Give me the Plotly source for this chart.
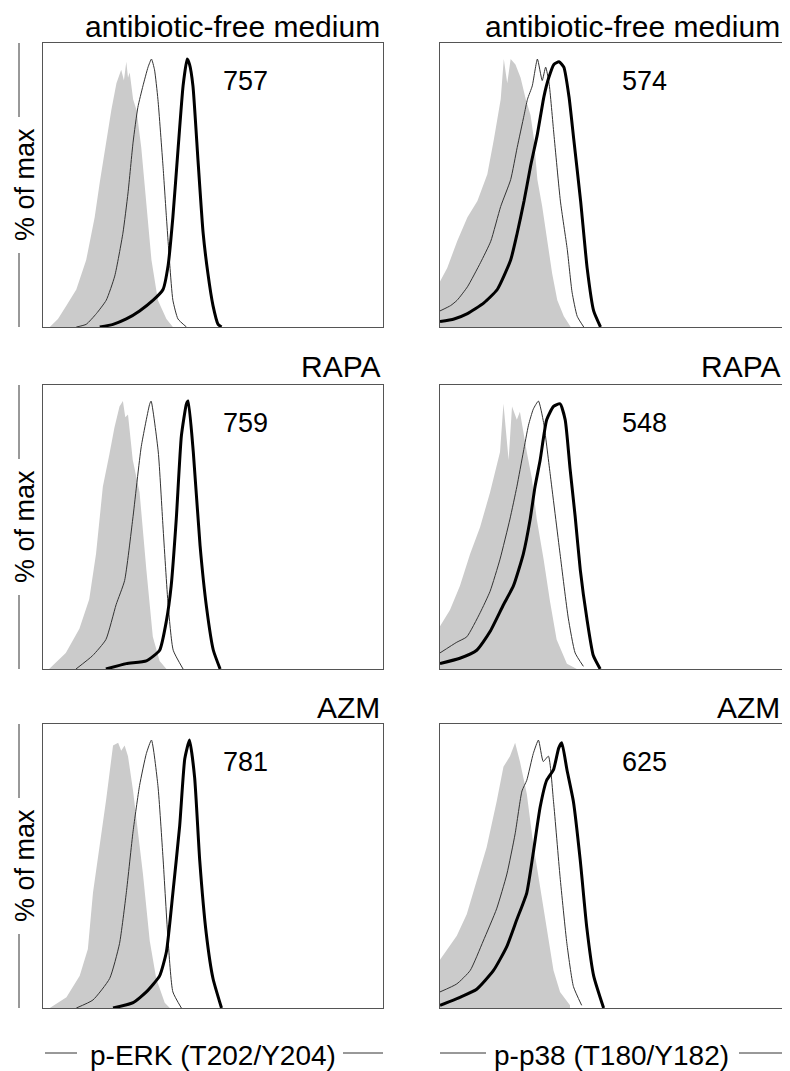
import plotly.graph_objects as go

# ---------------- data (x: fluorescence channel 0-100, y: % of max) ----------------
row_titles = ["antibiotic-free medium", "RAPA", "AZM"]
x_labels = ["p-ERK (T202/Y204)", "p-p38 (T180/Y182)"]
y_label = "% of max"
mfi_values = [["757", "574"], ["759", "548"], ["781", "625"]]

# p-ERK, antibiotic-free medium
erk_med_gray_x = [2, 4.4, 6.9, 9.8, 12.7, 15.2, 16.7, 18.6, 20.1, 21.6, 23.0, 23.8, 24.5, 25.0, 25.5, 26.5, 27.5, 28.9, 30.4, 31.9, 33.8, 36.3, 38.2]
erk_med_gray_y = [0, 3, 8, 14, 25, 41, 54, 70, 81, 91, 96, 92, 99, 93, 95, 85, 81, 67, 47, 25, 10, 3, 0]
erk_med_thin_x = [9.8, 12.7, 15.7, 18.6, 21.1, 23.5, 25.0, 26.5, 27.9, 29.4, 30.9, 31.9, 32.8, 33.8, 35.3, 36.3, 37.3, 38.2, 39.7, 42.2]
erk_med_thin_y = [0, 1, 5, 10, 19, 35, 50, 69, 82, 90, 97, 100, 96, 85, 60, 41, 23, 10, 3, 0]
erk_med_thick_x = [16.7, 20.6, 24.5, 28.4, 32.4, 35.3, 36.8, 38.2, 39.7, 41.2, 42.4, 43.1, 44.1, 45.6, 47.1, 48.5, 50.0, 51.5, 52.5]
erk_med_thick_y = [0, 1, 3, 6, 10, 14, 23, 41, 66, 90, 100, 98, 90, 62, 35, 20, 8, 1, 0]

# p-ERK, RAPA
erk_rapa_gray_x = [1.8, 6.7, 10.7, 13.6, 15.6, 17.6, 19.5, 21.0, 22.5, 23.5, 24.2, 25.0, 26.4, 28.4, 30.4, 32.3, 34.3, 36.3]
erk_rapa_gray_y = [0, 6, 15, 26, 43, 68, 80, 90, 98, 100, 94, 95, 78, 66, 37, 12, 3, 0]
erk_rapa_thin_x = [9.7, 14.6, 18.5, 21.5, 24.0, 26.4, 28.9, 31.4, 31.8, 33.9, 35.3, 36.8, 38.3, 41.2]
erk_rapa_thin_y = [0, 5, 11, 24, 33, 56, 83, 99, 100, 81, 53, 24, 7, 0]
erk_rapa_thick_x = [18.5, 24.5, 30.4, 34.3, 36.3, 37.7, 39.2, 40.7, 42.2, 42.7, 44.2, 46.2, 48.1, 50.1, 52.1]
erk_rapa_thick_y = [0, 2, 3, 7, 18, 31, 56, 87, 99, 100, 81, 46, 23, 7, 0]

# p-ERK, AZM
erk_azm_gray_x = [2.0, 6.9, 10.8, 13.2, 14.7, 16.7, 18.6, 20.6, 22.1, 23.0, 24.0, 25.0, 25.5, 26.5, 27.9, 29.4, 31.4, 33.3, 35.8, 37.3]
erk_azm_gray_y = [0, 4, 12, 22, 43, 60, 78, 98, 99, 96, 98, 94, 90, 81, 66, 50, 25, 11, 2, 0]
erk_azm_thin_x = [9.8, 14.7, 19.6, 22.5, 24.5, 26.5, 28.4, 30.4, 31.9, 33.8, 35.3, 36.8, 38.2, 40.7]
erk_azm_thin_y = [0, 3, 11, 24, 43, 66, 83, 95, 100, 83, 56, 25, 6, 0]
erk_azm_thick_x = [20.6, 26.5, 30.4, 34.3, 36.3, 38.2, 40.2, 41.7, 43.1, 44.6, 46.1, 48.0, 50.0, 52.5]
erk_azm_thick_y = [0, 2, 6, 12, 21, 43, 68, 93, 100, 86, 55, 28, 11, 0]

# p-p38, antibiotic-free medium
p38_med_gray_x = [0, 2.1, 5.0, 8.0, 10.9, 13.8, 15.7, 17.7, 18.6, 19.6, 20.6, 22.0, 23.5, 25.0, 26.4, 27.4, 28.4, 29.8, 31.3, 32.7, 34.2, 36.1, 38.1]
p38_med_gray_y = [17, 22, 32, 41, 47, 57, 70, 85, 100, 91, 100, 98, 93, 85, 79, 70, 55, 45, 32, 20, 10, 4, 0]
p38_med_thin_x = [0, 3.1, 5.0, 8.0, 11.8, 14.8, 17.7, 20.6, 22.5, 24.5, 25.5, 26.9, 28.4, 29.8, 30.8, 31.8, 33.2, 35.1, 37.1, 38.5, 40.0, 41.9]
p38_med_thin_y = [6, 8, 10, 15, 24, 32, 45, 55, 67, 79, 85, 90, 100, 92, 97, 91, 72, 47, 29, 13, 4, 0]
p38_med_thick_x = [0, 4.1, 8.0, 12.8, 16.7, 20.6, 22.5, 24.5, 26.4, 28.4, 30.3, 31.7, 33.2, 34.7, 36.1, 37.6, 39.0, 41.0, 42.9, 44.8, 46.8]
p38_med_thick_y = [2, 3, 5, 9, 14, 25, 35, 47, 60, 72, 86, 93, 98, 99, 97, 86, 70, 47, 22, 6, 0]

# p-p38, RAPA
p38_rapa_gray_x = [0, 2.9, 5.8, 8.8, 11.7, 14.6, 17.5, 18.5, 20.0, 21.0, 22.4, 23.3, 25.3, 26.8, 28.2, 30.2, 32.1, 34.0, 37.0, 39.9]
p38_rapa_gray_y = [16, 22, 31, 43, 53, 66, 81, 99, 78, 98, 93, 96, 81, 71, 56, 41, 25, 11, 2, 0]
p38_rapa_thin_x = [0, 4.9, 7.8, 11.7, 14.6, 17.5, 20.4, 22.4, 24.3, 25.8, 27.2, 28.7, 30.2, 32.1, 35.0, 37.4, 39.4, 41.8]
p38_rapa_thin_y = [6, 10, 12, 21, 29, 41, 56, 68, 81, 91, 97, 100, 92, 73, 43, 19, 6, 1]
p38_rapa_thick_x = [0, 5.8, 10.7, 14.6, 18.5, 21.4, 24.3, 26.3, 27.7, 29.2, 31.1, 33.1, 35.0, 36.5, 37.9, 39.4, 40.9, 42.8, 44.7, 46.7]
p38_rapa_thick_y = [2, 4, 7, 14, 24, 31, 43, 56, 68, 78, 93, 98, 99, 93, 75, 57, 37, 19, 5, 0]

# p-p38, AZM
p38_azm_gray_x = [0, 4.9, 7.8, 10.7, 13.6, 16.5, 18.5, 20.4, 21.9, 23.3, 25.3, 27.2, 29.2, 31.1, 33.1, 35.0, 37.9]
p38_azm_gray_y = [18, 27, 35, 48, 60, 77, 90, 94, 99, 92, 80, 61, 45, 30, 14, 6, 1]
p38_azm_thin_x = [0, 4.9, 8.8, 12.6, 16.5, 19.5, 21.9, 23.9, 25.3, 27.2, 28.7, 30.1, 31.6, 33.1, 35.0, 37.0, 38.9, 41.3]
p38_azm_thin_y = [6, 9, 14, 25, 37, 50, 65, 81, 85, 95, 100, 92, 94, 77, 49, 24, 8, 1]
p38_azm_thick_x = [0, 5.8, 10.7, 15.6, 19.5, 22.4, 25.3, 27.2, 29.2, 31.1, 33.1, 34.6, 35.5, 37.0, 38.9, 40.9, 42.8, 44.8, 47.7]
p38_azm_thick_y = [1, 4, 7, 14, 23, 33, 43, 58, 75, 85, 89, 97, 99, 89, 77, 55, 30, 12, 0]

panels = [
    [(erk_med_gray_x, erk_med_gray_y, erk_med_thin_x, erk_med_thin_y, erk_med_thick_x, erk_med_thick_y),
     (p38_med_gray_x, p38_med_gray_y, p38_med_thin_x, p38_med_thin_y, p38_med_thick_x, p38_med_thick_y)],
    [(erk_rapa_gray_x, erk_rapa_gray_y, erk_rapa_thin_x, erk_rapa_thin_y, erk_rapa_thick_x, erk_rapa_thick_y),
     (p38_rapa_gray_x, p38_rapa_gray_y, p38_rapa_thin_x, p38_rapa_thin_y, p38_rapa_thick_x, p38_rapa_thick_y)],
    [(erk_azm_gray_x, erk_azm_gray_y, erk_azm_thin_x, erk_azm_thin_y, erk_azm_thick_x, erk_azm_thick_y),
     (p38_azm_gray_x, p38_azm_gray_y, p38_azm_thin_x, p38_azm_thin_y, p38_azm_thick_x, p38_azm_thick_y)],
]

# ---------------- layout geometry (page pixels) ----------------
PAGE_OFF = 8                      # default body margin of the html page
W, H = 790 - PAGE_OFF, 1071 - PAGE_OFF
cols_px = [(43, 383), (440, 783)]
rows_px = [(43, 327), (385, 669), (724, 1008)]
title_cy = [27, 366, 707]
X_RANGE = [0, 100]
Y_RANGE = [0, 106]
FONT = "Liberation Sans, Arial, Helvetica, sans-serif"
GRAY = "#cbcbcb"
BOX = "#555555"


def px(x):
    return (x - PAGE_OFF) / W


def py(y):
    return 1 - (y - PAGE_OFF) / H


fig = go.Figure()
annotations = []
shapes = []

for r in range(3):
    for c in range(2):
        k = r * 2 + c + 1
        xa = "x" if k == 1 else f"x{k}"
        ya = "y" if k == 1 else f"y{k}"
        gx, gy, tx, ty, kx, ky = panels[r][c]
        fig.add_trace(go.Scatter(x=gx, y=gy, mode="lines", line=dict(width=0, color=GRAY),
                                 fill="tozeroy", fillcolor=GRAY, xaxis=xa, yaxis=ya,
                                 showlegend=False, hoverinfo="skip"))
        fig.add_trace(go.Scatter(x=tx, y=ty, mode="lines",
                                 line=dict(width=1, color="#333333", shape="spline", smoothing=0.5),
                                 xaxis=xa, yaxis=ya, showlegend=False, hoverinfo="skip"))
        fig.add_trace(go.Scatter(x=kx, y=ky, mode="lines",
                                 line=dict(width=3, color="#000000", shape="spline", smoothing=0.5),
                                 xaxis=xa, yaxis=ya, showlegend=False, hoverinfo="skip"))
        x0, x1 = cols_px[c]
        y0, y1 = rows_px[r]
        common = dict(showline=True, mirror=True, linecolor=BOX, linewidth=1,
                      showticklabels=False, ticks="", showgrid=False, zeroline=False,
                      fixedrange=True)
        fig.update_layout(**{
            ("xaxis" if k == 1 else f"xaxis{k}"): dict(domain=[px(x0), px(x1)], range=X_RANGE,
                                                       anchor=ya, **common),
            ("yaxis" if k == 1 else f"yaxis{k}"): dict(domain=[py(y1), py(y0)], range=Y_RANGE,
                                                       anchor=xa, **common),
        })
        # MFI value
        annotations.append(dict(text=mfi_values[r][c], x=59.7, y=92, xref=xa, yref=ya,
                                xanchor="center", yanchor="middle", showarrow=False,
                                font=dict(family=FONT, size=27, color="#000")))
        # row title
        annotations.append(dict(text=row_titles[r], x=px(x1 - 1), y=py(title_cy[r]), xref="paper",
                                yref="paper", xanchor="right", yanchor="middle", showarrow=False,
                                font=dict(family=FONT, size=30, color="#000")))
    # y label with bracketing lines
    y0, y1 = rows_px[r]
    cy = (y0 + y1) / 2
    annotations.append(dict(text=y_label, x=px(25), y=py(cy), xref="paper", yref="paper",
                            xanchor="center", yanchor="middle", textangle=-90, showarrow=False,
                            font=dict(family=FONT, size=27, color="#000")))
    shapes.append(dict(type="line", xref="paper", yref="paper", x0=px(19), x1=px(19),
                       y0=py(y0), y1=py(cy - 68), line=dict(color="#333", width=1)))
    shapes.append(dict(type="line", xref="paper", yref="paper", x0=px(19), x1=px(19),
                       y0=py(cy + 68), y1=py(y1), line=dict(color="#333", width=1)))

# x labels with dashes
label_cy = 1055
dash_y = 1053
dash_spans = [[(45, 77), (343, 383)], [(440, 486), (739, 783)]]
for c in range(2):
    x0, x1 = cols_px[c]
    annotations.append(dict(text=x_labels[c], x=px((x0 + x1) / 2), y=py(label_cy), xref="paper",
                            yref="paper", xanchor="center", yanchor="middle", showarrow=False,
                            font=dict(family=FONT, size=28, color="#000")))
    for a, b in dash_spans[c]:
        shapes.append(dict(type="line", xref="paper", yref="paper", x0=px(a), x1=px(b),
                           y0=py(dash_y), y1=py(dash_y), line=dict(color="#333", width=1)))

fig.update_layout(width=W, height=H, margin=dict(l=0, r=0, t=0, b=0),
                  paper_bgcolor="white", plot_bgcolor="white",
                  annotations=annotations, shapes=shapes, showlegend=False)

fig.write_html("out.html")
